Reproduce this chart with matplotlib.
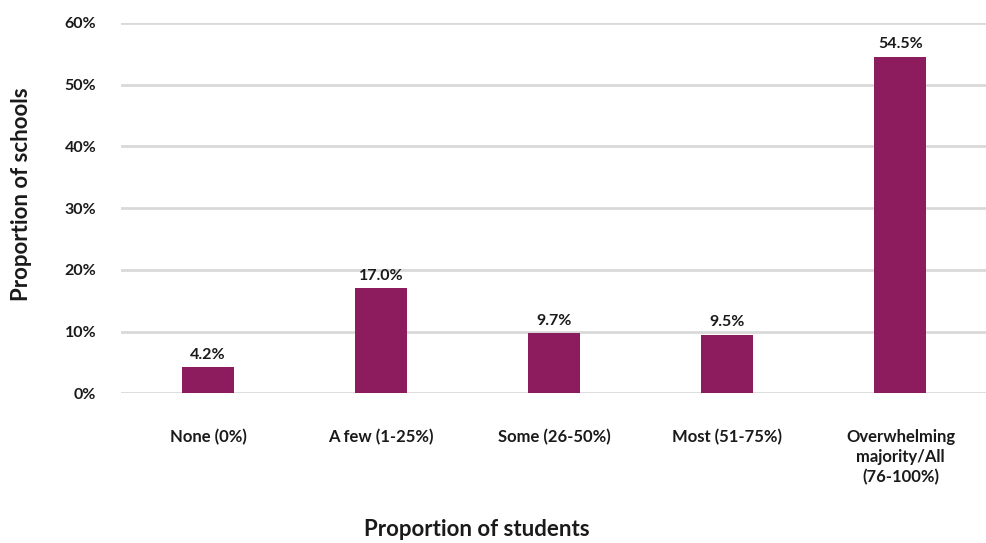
import numpy as np
import matplotlib
matplotlib.use('Agg')
import matplotlib.pyplot as plt

# survey results
categories = ['None (0%)', 'A few (1-25%)', 'Some (26-50%)', 'Most (51-75%)',
              'Overwhelming\nmajority/All\n(76-100%)']
share_pct = [4.2, 17.0, 9.7, 9.5, 54.5]
yticks_pct = [0, 10, 20, 30, 40, 50, 60]

barColor = '#8D1C5E'
gridColor = '#D9D9D9'
textColor = '#1A1A1A'

plt.rcParams['font.family'] = ['Lato', 'DejaVu Sans']
plt.rcParams['font.weight'] = 'bold'

fig = plt.figure(figsize=(9.87, 5.43), dpi=100)
ax = fig.add_axes([0.123, 0.2757, 0.877, 0.682])

x = np.arange(len(categories))
ax.bar(x, share_pct, 0.3, color=barColor, zorder=3)

for xi, v in zip(x, share_pct):
    ax.annotate('%.1f%%' % v, (xi, v), xytext=(0, 4), textcoords='offset points',
                ha='center', va='bottom', fontsize=11.5, fontweight='bold', color=textColor)

ax.set_xlim(-0.5, len(categories) - 0.5)
ax.set_ylim(0, 60)
ax.set_yticks(yticks_pct)
ax.set_yticklabels(['%d%%' % t for t in yticks_pct])
ax.set_xticks(x)
ax.set_xticklabels(categories, linespacing=1.3)

ax.yaxis.grid(True, color=gridColor, linewidth=2.0, zorder=0)
ax.set_axisbelow(True)
for s in ax.spines.values():
    s.set_visible(False)
ax.tick_params(axis='both', length=0, colors=textColor)
ax.tick_params(axis='y', pad=18, labelsize=11.5)
ax.tick_params(axis='x', pad=26, labelsize=12)
for lbl in ax.get_xticklabels() + ax.get_yticklabels():
    lbl.set_fontweight('bold')

fig.text(477 / 987, 1 - 530 / 543, 'Proportion of students', ha='center', va='center',
         fontsize=16, fontweight='bold', color=textColor)
fig.text(22 / 987, 1 - 194 / 543, 'Proportion of schools', ha='center', va='center',
         rotation=90, fontsize=16, fontweight='bold', color=textColor)

fig.savefig('out.png', dpi=100)
